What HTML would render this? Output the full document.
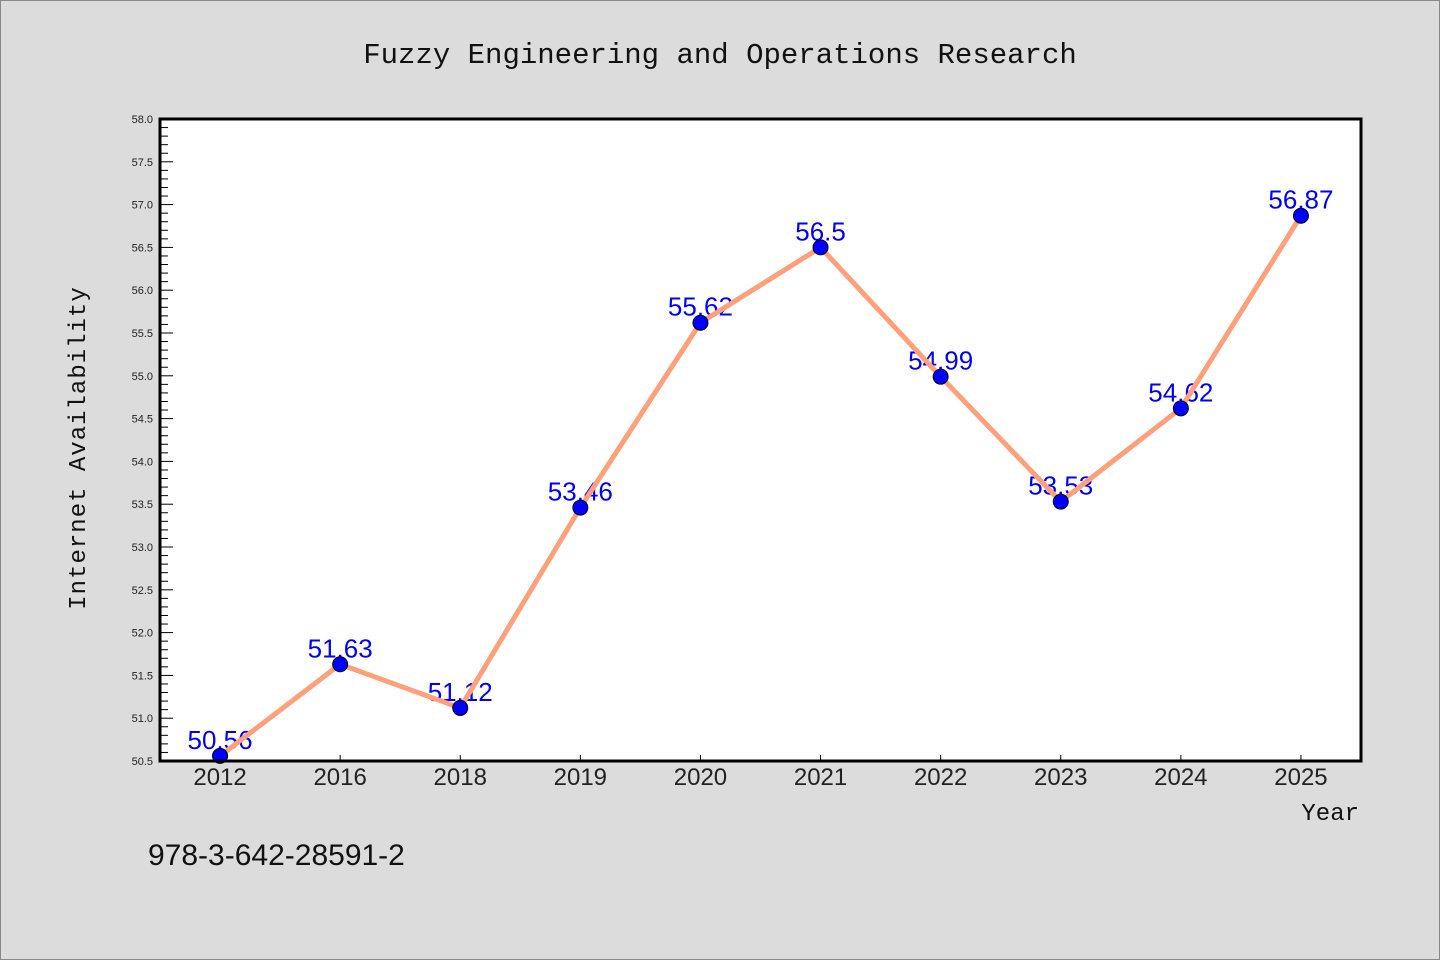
<!DOCTYPE html>
<html><head><meta charset="utf-8"><style>
html,body{margin:0;padding:0;background:#dcdcdc;}
svg{display:block;font-family:"Liberation Sans","Noto Sans CJK SC",sans-serif;}
</style></head><body>
<svg id="chart" width="1440" height="960" viewBox="0 0 1440 960">
<rect x="0.5" y="0.5" width="1439" height="959" fill="#dcdcdc" stroke="#888"/>
<text x="720" y="63" text-anchor="middle" font-size="29" font-family="'Liberation Mono',monospace" fill="#111">Fuzzy Engineering and Operations Research</text>
<rect x="160" y="119" width="1201" height="642" fill="#fff"/>
<g id="yaxis"></g>
<g id="xaxis"></g>
<g id="series"></g>
<rect x="160" y="119" width="1201" height="642" fill="none" stroke="#000" stroke-width="3"/>
<text transform="translate(85,448) rotate(-90)" text-anchor="middle" font-size="24" font-family="'Liberation Mono',monospace" fill="#111" letter-spacing="1">Internet Availability</text>
<text x="1359" y="820" text-anchor="end" font-size="24" font-family="'Liberation Mono',monospace" fill="#111">Year</text>
<text x="148" y="865" font-size="30" fill="#111">978-3-642-28591-2</text>
</svg>
<script>
const categories = ["2012","2016","2018","2019","2020","2021","2022","2023","2024","2025"];
const values = [50.56,51.63,51.12,53.46,55.62,56.5,54.99,53.53,54.62,56.87];
const valueLabels = ["50.56","51.63","51.12","53.46","55.62","56.5","54.99","53.53","54.62","56.87"];
const yTicks = ["50.5","51.0","51.5","52.0","52.5","53.0","53.5","54.0","54.5","55.0","55.5","56.0","56.5","57.0","57.5","58.0"];
const NS="http://www.w3.org/2000/svg";
const L=160,R=1361,T=119,B=761,yMin=50.5,yMax=58;
const step=(R-L)/categories.length;
function xs(i){return L+step*(i+0.5);}
function ys(v){return B-(v-yMin)/(yMax-yMin)*(B-T);}
function mk(tag,attrs,parent){const e=document.createElementNS(NS,tag);for(const k in attrs)e.setAttribute(k,attrs[k]);parent.appendChild(e);return e;}
const ya=document.getElementById('yaxis'),xa=document.getElementById('xaxis'),sg=document.getElementById('series');
for(let k=0;k<=(yMax-yMin)*10+0.001;k++){
  const v=yMin+k*0.1,y=ys(v),major=k%5===0;
  const t=mk('line',{x1:L,x2:L+(major?13:8),y1:y,y2:y,stroke:'#000','stroke-width':1},ya);
  
  
}
yTicks.forEach(s=>{
  const t=mk('text',{x:L-7,y:ys(parseFloat(s))+4,'text-anchor':'end','font-size':11,fill:'#222'},ya);
  t.textContent=s;
  
  
});
categories.forEach((c,i)=>{
  const x=xs(i);
  const tk=mk('line',{x1:x,x2:x,y1:B,y2:B-6,stroke:'#000','stroke-width':1},xa);
  
  
  const t=mk('text',{x:x,y:785,'text-anchor':'middle','font-size':24,fill:'#222'},xa);
  t.textContent=c;
  
  
});
values.forEach((v,i)=>{
  const t=mk('text',{x:xs(i),y:ys(v)-7,'text-anchor':'middle','font-size':26,fill:'#0000ff'},sg);
  t.textContent=valueLabels[i];
  
  
});
const pl=mk('polyline',{points:values.map((v,i)=>xs(i)+','+ys(v)).join(' '),fill:'none',stroke:'#ffa07a','stroke-width':5,'stroke-linejoin':'round'},sg);


values.forEach((v,i)=>{
  const c=mk('circle',{cx:xs(i),cy:ys(v),r:7.5,fill:'#0000ff',stroke:'#000','stroke-width':1},sg);
  
  
});
</script>
</body></html>
